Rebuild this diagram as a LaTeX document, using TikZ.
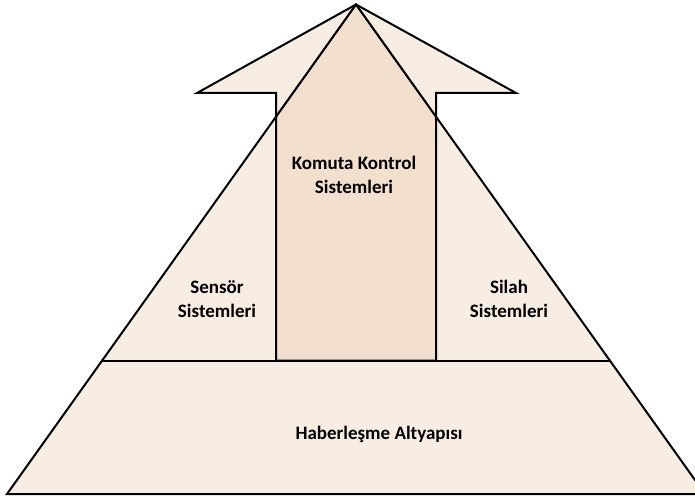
\documentclass[tikz,border=0pt]{standalone}
\usepackage{fontspec}
\setmainfont{Carlito}[BoldFont={Carlito Bold}]
\usetikzlibrary{calc}
\definecolor{pyrlight}{RGB}{248,237,227}
\definecolor{pyrdark}{RGB}{242,223,206}
\tikzset{
  outline/.style={draw=black, line width=2pt, line join=miter},
  inner line/.style={draw=black!85, line width=1.6pt},
  label/.style={font=\fontsize{19}{24}\selectfont\bfseries, align=center, text=black, inner sep=0pt}
}
\begin{document}
\begin{tikzpicture}[x=1pt, y=-1pt]
\useasboundingbox (0,0) rectangle (695,497);
% pyramid corners
\coordinate (apex) at (356,4.5);
\coordinate (bl) at (7,494);
\coordinate (br) at (705,494);
\coordinate (ml) at ($(apex)!0.7273!(bl)$);
\coordinate (mr) at ($(apex)!0.7273!(br)$);
% arrow outline points
\coordinate (wl) at (197,93);
\coordinate (wr) at (516,93);
\coordinate (sl) at (276,93);
\coordinate (sr) at (436,93);
\coordinate (sbl) at (276,360.5);
\coordinate (sbr) at (436,360.5);
\begin{scope}
  \clip (0,0) rectangle (695,497);
  % pyramid and arrow fills; darker where they overlap
  \fill[pyrlight] (apex) -- (bl) -- (br) -- cycle;
  \fill[pyrlight] (apex) -- (wr) -- (sr) -- (sbr) -- (sbl) -- (sl) -- (wl) -- cycle;
  \begin{scope}
    \clip (apex) -- (bl) -- (br) -- cycle;
    \fill[pyrdark] (apex) -- (wr) -- (sr) -- (sbr) -- (sbl) -- (sl) -- (wl) -- cycle;
  \end{scope}
  % pyramid edges showing through the arrow head
  \begin{scope}
    \clip (apex) -- (wr) -- (sr) -- (sbr) -- (sbl) -- (sl) -- (wl) -- cycle;
    \draw[inner line] (apex) -- (bl) (apex) -- (br);
  \end{scope}
  % outlines
  \draw[outline] (apex) -- (bl) -- (br) -- cycle;
  \draw[outline] (ml) -- (mr);
  \draw[outline] (apex) -- (wr) -- (sr) -- (sbr) -- (sbl) -- (sl) -- (wl) -- cycle;
\end{scope}
% labels
\node[label] (komuta) at (354,175) {Komuta Kontrol\\Sistemleri};
\node[label] (sensor) at (217,299) {Sensör\\Sistemleri};
\node[label] (silah) at (509,299) {Silah\\Sistemleri};
\node[label] (haber) at (379,434) {Haberleşme Altyapısı};
\end{tikzpicture}
\end{document}
